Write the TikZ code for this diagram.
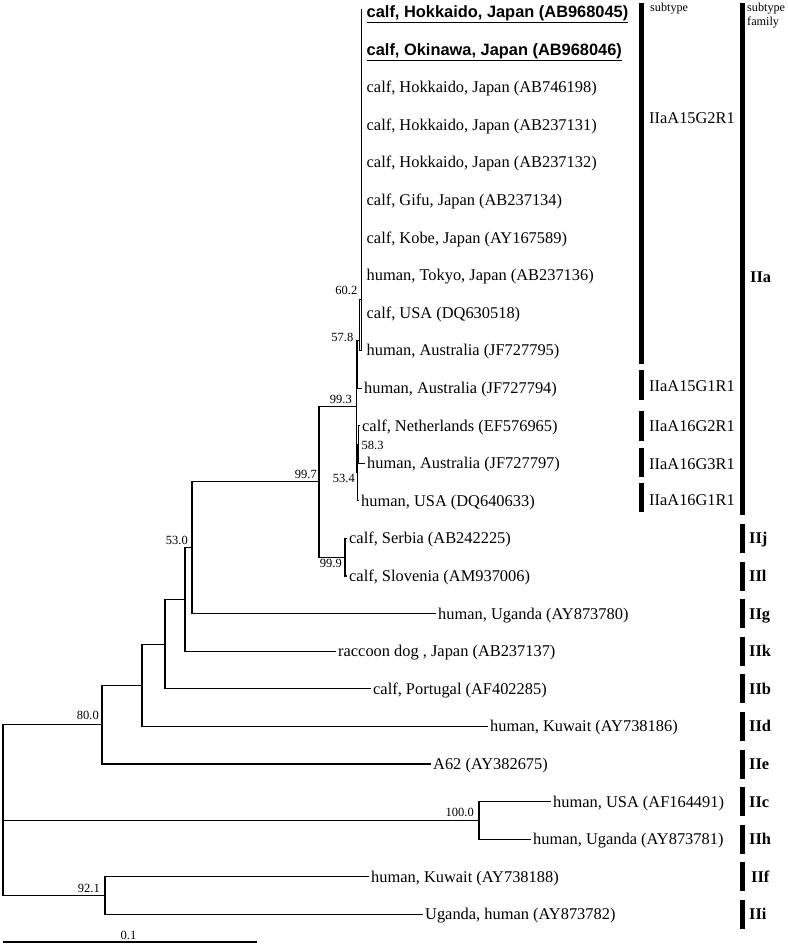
\documentclass[tikz,border=0pt]{standalone}
\usepackage{fontspec}
\setmainfont{Liberation Serif}
\newfontfamily\arialfont{Liberation Sans}
\begin{document}
\begin{tikzpicture}[x=1pt,y=-1pt,
  br/.style={line width=1.1pt},
  thin/.style={line width=0.9pt},
  leaf/.style={anchor=base west,inner sep=0pt,xshift=2pt,yshift=-5.5pt,font=\fontsize{16.4}{18}\selectfont},
  bleaf/.style={leaf,font=\arialfont\bfseries\fontsize{16.4}{18}\selectfont},
  bs/.style={anchor=base east,inner sep=0pt,font=\fontsize{12.5}{14}\selectfont},
  sub/.style={anchor=base west,inner sep=0pt,yshift=-5.5pt,font=\fontsize{16.4}{18}\selectfont},
  fam/.style={anchor=base west,inner sep=0pt,yshift=-5.5pt,font=\bfseries\fontsize{16.4}{18}\selectfont},
  small/.style={anchor=base west,inner sep=0pt,font=\fontsize{12.2}{14}\selectfont},
  bar/.style={line width=5pt}]
\useasboundingbox (0,0) rectangle (787,944);
% internal nodes
\coordinate (R) at (3,820.4);
\coordinate (N800) at (102,724.6);
\coordinate (Nc) at (142,685.3);
\coordinate (Nb) at (165,644.1);
\coordinate (Na) at (185,599.4);
\coordinate (N530) at (192,547.7);
\coordinate (N997) at (319,481.75);
\coordinate (N999) at (345,557.2);
\coordinate (N993) at (356,406.3);
\coordinate (N578) at (357.5,340);
\coordinate (N602) at (359.5,299);
\coordinate (NP) at (361.5,299);
\coordinate (N534) at (357,472.6);
\coordinate (N583) at (358.5,444.4);
\coordinate (N1000) at (479,820.4);
\coordinate (N921) at (105,895.6);
% leaves
\coordinate (L1) at (361.5,9);
\coordinate (L2) at (361.5,49.6);
\coordinate (L3) at (361.5,87.2);
\coordinate (L4) at (361.5,124.8);
\coordinate (L5) at (361.5,162.4);
\coordinate (L6) at (361.5,200);
\coordinate (L7) at (361.5,237.6);
\coordinate (L8) at (361.5,275.2);
\coordinate (L9) at (361.5,312.8);
\coordinate (L10) at (361.5,350.4);
\coordinate (L11) at (362,388);
\coordinate (L12) at (360,425.6);
\coordinate (L13) at (365,463.2);
\coordinate (L14) at (359,500.8);
\coordinate (L15) at (347,538.4);
\coordinate (L16) at (347,576);
\coordinate (L17) at (436,613.6);
\coordinate (L18) at (336,651.2);
\coordinate (L19) at (371,688.8);
\coordinate (L20) at (488,726.4);
\coordinate (L21) at (431,764);
\coordinate (L22) at (551,801.6);
\coordinate (L23) at (531,839.2);
\coordinate (L24) at (369,876.8);
\coordinate (L25) at (423,914.4);
% branches
\draw[br] (R) |- (N800);
\draw[br] (R) -- (N1000);
\draw[br] (R) |- (N921);
\draw[br] (N800) |- (Nc);
\draw[br] (N800) |- (L21);
\draw[br] (Nc) |- (Nb);
\draw[br] (Nc) |- (L20);
\draw[br] (Nb) |- (Na);
\draw[br] (Nb) |- (L19);
\draw[br] (Na) |- (N530);
\draw[br] (Na) |- (L18);
\draw[br] (N530) |- (N997);
\draw[br] (N530) |- (L17);
\draw[br] (N997) |- (N993);
\draw[br] (N997) |- (N999);
\draw[br] (N999) |- (L15);
\draw[br] (N999) |- (L16);
\draw[thin] (N993) |- (N578);
\draw[thin] (N993) |- (N534);
\draw[thin] (N578) |- (L11);
\draw[thin] (N578) -- (N578 -| N602);
\draw[thin] (N602) |- (L10);
\draw[thin] (N602) -- (NP);
\draw[thin] (NP) |- (L1);
\draw[thin] (NP) |- (L10);
\draw[thin] (N534) |- (N583);
\draw[thin] (N534) |- (L14);
\draw[thin] (N583) |- (L12);
\draw[thin] (N583) |- (L13);
\draw[br] (N1000) |- (L22);
\draw[br] (N1000) |- (L23);
\draw[br] (N921) |- (L24);
\draw[br] (N921) |- (L25);
% leaf labels
\node[bleaf,xshift=3pt] (T1) at (L1 |- 0,12) {\underline{calf, Hokkaido, Japan (AB968045)}};
\node[bleaf,xshift=3pt] (T2) at (L2) {\underline{calf, Okinawa, Japan (AB968046)}};
\node[leaf,xshift=3pt] (T3) at (L3) {calf, Hokkaido, Japan (AB746198)};
\node[leaf,xshift=3pt] (T4) at (L4) {calf, Hokkaido, Japan (AB237131)};
\node[leaf,xshift=3pt] (T5) at (L5) {calf, Hokkaido, Japan (AB237132)};
\node[leaf,xshift=3pt] (T6) at (L6) {calf, Gifu, Japan (AB237134)};
\node[leaf,xshift=3pt] (T7) at (L7) {calf, Kobe, Japan (AY167589)};
\node[leaf,xshift=3pt] (T8) at (L8) {human, Tokyo, Japan (AB237136)};
\node[leaf,xshift=3pt] (T9) at (L9) {calf, USA (DQ630518)};
\node[leaf,xshift=3pt] (T10) at (L10) {human, Australia (JF727795)};
\node[leaf] (T11) at (L11) {human, Australia (JF727794)};
\node[leaf] (T12) at (L12) {calf, Netherlands (EF576965)};
\node[leaf] (T13) at (L13) {human, Australia (JF727797)};
\node[leaf] (T14) at (L14) {human, USA (DQ640633)};
\node[leaf] (T15) at (L15) {calf, Serbia (AB242225)};
\node[leaf] (T16) at (L16) {calf, Slovenia (AM937006)};
\node[leaf] (T17) at (L17) {human, Uganda (AY873780)};
\node[leaf] (T18) at (L18) {raccoon dog , Japan (AB237137)};
\node[leaf] (T19) at (L19) {calf, Portugal (AF402285)};
\node[leaf] (T20) at (L20) {human, Kuwait (AY738186)};
\node[leaf] (T21) at (L21) {A62 (AY382675)};
\node[leaf] (T22) at (L22) {human, USA (AF164491)};
\node[leaf] (T23) at (L23) {human, Uganda (AY873781)};
\node[leaf] (T24) at (L24) {human, Kuwait (AY738188)};
\node[leaf] (T25) at (L25) {Uganda, human (AY873782)};
% bootstrap values
\node[bs] (B602) at ([xshift=-2pt,yshift=4.5pt]N602) {60.2};
\node[bs] (B578) at ([xshift=-4pt,yshift=-1.5pt]N578) {57.8};
\node[bs] (B993) at ([xshift=-4pt,yshift=2.8pt]N993) {99.3};
\node[bs,anchor=base west] (B583) at ([xshift=3pt,yshift=-5.1pt]N583) {58.3};
\node[bs] (B534) at ([xshift=-2pt,yshift=-9.9pt]N534) {53.4};
\node[bs] (B997) at ([xshift=-2pt,yshift=3.25pt]N997) {99.7};
\node[bs] (B999) at ([xshift=-3pt,yshift=-10.3pt]N999) {99.9};
\node[bs] (B530) at ([xshift=-4pt,yshift=3.2pt]N530) {53.0};
\node[bs] (B800) at ([xshift=-3pt,yshift=5.1pt]N800) {80.0};
\node[bs] (B1000) at ([xshift=-5pt,yshift=3.9pt]N1000) {100.0};
\node[bs] (B921) at ([xshift=-5pt,yshift=3.1pt]N921) {92.1};
% subtype bars
\draw[bar] (641.5,3) -- (641.5,364);
\draw[bar] (641.5,370) -- (641.5,400);
\draw[bar] (641.5,411) -- (641.5,441);
\draw[bar] (641.5,448) -- (641.5,477);
\draw[bar] (641.5,483) -- (641.5,512);
\node[small] (hsub) at (650,11.5) {subtype};
\node[sub] (S1) at (649,118) {IIaA15G2R1};
\node[sub] (S2) at (649,386) {IIaA15G1R1};
\node[sub] (S3) at (649,426) {IIaA16G2R1};
\node[sub] (S4) at (649,463.5) {IIaA16G3R1};
\node[sub] (S5) at (649,500) {IIaA16G1R1};
% family bars
\draw[bar] (742,3) -- (742,515);
\foreach \a/\b in {524/553,561.5/590.5,599/628,636.7/665.7,674/703,712/741,749.5/778.5,787/816,824.7/853.7,862/891,900/929}
  { \draw[bar] (742,\a) -- (742,\b); }
\node[small] (hfam1) at (747,11.5) {subtype};
\node[small] (hfam2) at (747,26) {family};
\node[fam] (F1) at (750,277) {IIa};
\node[fam] (F2) at (749,538.4) {IIj};
\node[fam] (F3) at (749,576) {IIl};
\node[fam] (F4) at (749,613.6) {IIg};
\node[fam] (F5) at (749,651.2) {IIk};
\node[fam] (F6) at (749,688.8) {IIb};
\node[fam] (F7) at (749,726.4) {IId};
\node[fam] (F8) at (749,764) {IIe};
\node[fam] (F9) at (749,801.6) {IIc};
\node[fam] (F10) at (749,839.2) {IIh};
\node[fam] (F11) at (751,876.8) {IIf};
\node[fam] (F12) at (749,914.4) {IIi};
% scale bar
\coordinate (SB1) at (3,942);
\coordinate (SB2) at (257,942);
\draw[br] (SB1) -- (SB2);
\node[bs,anchor=base] (SBL) at (128.5,939) {0.1};
\end{tikzpicture}
\end{document}
